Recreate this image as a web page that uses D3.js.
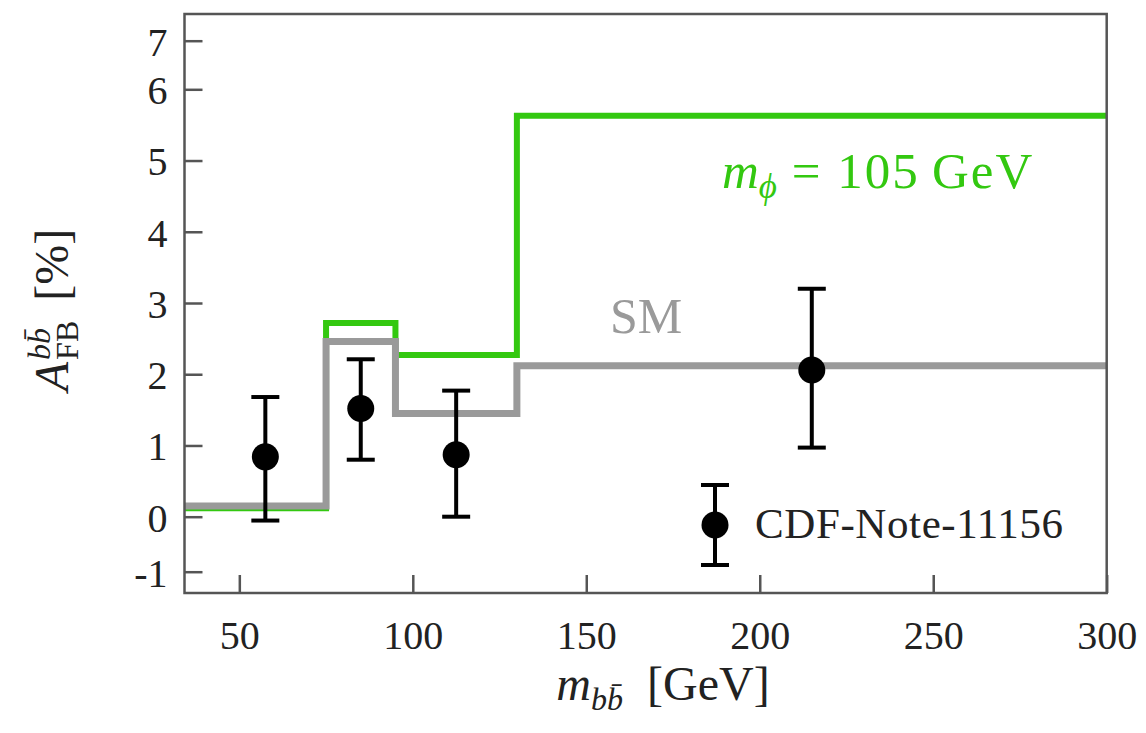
<!DOCTYPE html>
<html lang="en">

<head>
    <meta charset="utf-8">
    <script src='https://d3js.org/d3.v7.min.js'></script>
    <style>
        body { margin: 0; background: #fff; }
        text { font-family: "Liberation Serif", "Times New Roman", serif; }
    </style>
</head>

<body>

    <script>

        // bin edges of the mass histogram (GeV) and the step values per bin (%)
        const binEdges = [30, 75, 95, 130, 300];
        const smValues = [0.15, 2.46, 1.45, 2.12];
        const phiValues = [0.12, 2.72, 2.27, 5.63];

        // CDF points
        const cdfMass = [57.5, 85, 112.5, 215];
        const cdfAfb = [0.84, 1.52, 0.87, 2.06];
        const cdfLow = [-0.07, 0.80, 0.0, 0.97];
        const cdfHigh = [1.68, 2.21, 1.77, 3.20];

        const xTicks = [50, 100, 150, 200, 250, 300];
        const yTicks = [-1, 0, 1, 2, 3, 4, 5, 6, 7];

        const width = 1146;
        const height = 733;
        const plotLeft = 184.5, plotRight = 1106.7, plotTop = 14, plotBottom = 593;

        const green = "#33c810";
        const grey = "#9a9a9a";
        const frame = "#555";

        const svg = d3.select("body")
            .append("svg")
            .attr("width", width)
            .attr("height", height);

        svg.append("rect").attr("width", width).attr("height", height).attr("fill", "#fff");

        var x = d3.scaleLinear()
            .domain([34.2, 300])
            .range([plotLeft, plotRight]);

        // the original axis squeezes the outermost ticks a bit, so piecewise
        var y = d3.scaleLinear()
            .domain([-1, 0, 6, 7])
            .range([571.7, 516.7, 89.3, 40.7]);

        svg.append("clipPath").attr("id", "plotclip")
            .append("rect")
            .attr("x", plotLeft).attr("y", plotTop)
            .attr("width", plotRight - plotLeft).attr("height", plotBottom - plotTop);

        function stepPoints(vals) {
            return binEdges.map(function (e, i) {
                return [e, vals[Math.min(i, vals.length - 1)]];
            });
        }

        var line = d3.line()
            .x(function (d) { return x(d[0]); })
            .y(function (d) { return y(d[1]); })
            .curve(d3.curveStepAfter);

        var plot = svg.append("g").attr("clip-path", "url(#plotclip)");

        plot.append("path")
            .datum(stepPoints(phiValues))
            .attr("d", line)
            .attr("fill", "none")
            .attr("stroke", green)
            .attr("stroke-width", 6);

        plot.append("path")
            .datum(stepPoints(smValues))
            .attr("d", line)
            .attr("fill", "none")
            .attr("stroke", grey)
            .attr("stroke-width", 7);

        // axes (ticks point inwards)
        var xAxis = d3.axisBottom(x)
            .tickValues(xTicks)
            .tickSizeInner(-18)
            .tickSizeOuter(0)
            .tickPadding(28);

        var yAxis = d3.axisLeft(y)
            .tickValues(yTicks)
            .tickFormat(function (d) { return String(d); })
            .tickSizeInner(-18)
            .tickSizeOuter(0)
            .tickPadding(17);

        var gx = svg.append("g")
            .attr("transform", "translate(0," + plotBottom + ")")
            .call(xAxis);
        var gy = svg.append("g")
            .attr("transform", "translate(" + plotLeft + ",0)")
            .call(yAxis);

        [gx, gy].forEach(function (g) {
            g.select(".domain").remove();
            g.selectAll(".tick line").attr("stroke", frame).attr("stroke-width", 2.5);
            g.selectAll(".tick text")
                .attr("fill", "#222")
                .style("font-family", "Liberation Serif, serif")
                .style("font-size", "40px");
        });
        gy.selectAll(".tick text").attr("dy", "0.36em");

        svg.append("rect")
            .attr("x", plotLeft).attr("y", plotTop)
            .attr("width", plotRight - plotLeft).attr("height", plotBottom - plotTop)
            .attr("fill", "none")
            .attr("stroke", frame)
            .attr("stroke-width", 2.5);

        // data points with error bars
        var pts = svg.selectAll(".pt")
            .data(cdfMass)
            .enter()
            .append("g")
            .attr("class", "pt");

        pts.append("line")
            .attr("x1", function (d) { return x(d); })
            .attr("x2", function (d) { return x(d); })
            .attr("y1", function (d, i) { return y(cdfLow[i]); })
            .attr("y2", function (d, i) { return y(cdfHigh[i]); })
            .attr("stroke", "#000").attr("stroke-width", 4);
        pts.append("line")
            .attr("x1", function (d) { return x(d) - 14; })
            .attr("x2", function (d) { return x(d) + 14; })
            .attr("y1", function (d, i) { return y(cdfLow[i]); })
            .attr("y2", function (d, i) { return y(cdfLow[i]); })
            .attr("stroke", "#000").attr("stroke-width", 4);
        pts.append("line")
            .attr("x1", function (d) { return x(d) - 14; })
            .attr("x2", function (d) { return x(d) + 14; })
            .attr("y1", function (d, i) { return y(cdfHigh[i]); })
            .attr("y2", function (d, i) { return y(cdfHigh[i]); })
            .attr("stroke", "#000").attr("stroke-width", 4);
        pts.append("circle")
            .attr("cx", function (d) { return x(d); })
            .attr("cy", function (d, i) { return y(cdfAfb[i]); })
            .attr("r", 13.5)
            .attr("fill", "#000");

        // legend
        var lg = svg.append("g").attr("transform", "translate(715,525)");
        lg.append("line").attr("y1", -40).attr("y2", 40).attr("stroke", "#000").attr("stroke-width", 4);
        lg.append("line").attr("x1", -14).attr("x2", 14).attr("y1", -40).attr("y2", -40).attr("stroke", "#000").attr("stroke-width", 4);
        lg.append("line").attr("x1", -14).attr("x2", 14).attr("y1", 40).attr("y2", 40).attr("stroke", "#000").attr("stroke-width", 4);
        lg.append("circle").attr("r", 13.5).attr("fill", "#000");
        lg.append("text")
            .attr("x", 40).attr("y", 13)
            .style("font-size", "43px")
            .style("letter-spacing", "0.6px")
            .attr("fill", "#222")
            .text("CDF-Note-11156");

        // curve labels
        var gl = svg.append("text")
            .attr("x", 722).attr("y", 188)
            .attr("fill", green)
            .style("font-size", "51px");
        gl.append("tspan").style("font-style", "italic").text("m");
        gl.append("tspan").style("font-style", "italic").style("font-size", "35px").attr("dy", 10).text("\u03d5");
        gl.append("tspan").attr("dy", -10).style("letter-spacing", "2px").text(" = 105\u2009GeV");

        svg.append("text")
            .attr("x", 610).attr("y", 333)
            .attr("fill", grey)
            .style("font-size", "50px")
            .text("SM");

        // x title
        var xt = svg.append("text")
            .attr("x", 663).attr("y", 700)
            .attr("text-anchor", "middle")
            .attr("fill", "#222")
            .style("font-size", "48px");
        xt.append("tspan").style("font-style", "italic").text("m");
        xt.append("tspan").style("font-style", "italic").style("font-size", "32px").attr("dy", 10).text("bb\u0304");
        xt.append("tspan").attr("dy", -10).text("\u2002[GeV]");

        // y title, laid out piece by piece then centred
        var yt = svg.append("g").attr("transform", "translate(68,310) rotate(-90)");
        var inner = yt.append("g");
        var a = inner.append("text").attr("fill", "#222").style("font-size", "48px").style("font-style", "italic").text("A");
        var aw = a.node().getComputedTextLength() + 2;
        var sup = inner.append("text").attr("x", aw).attr("y", -18).attr("fill", "#222")
            .style("font-size", "32px").style("font-style", "italic").text("bb\u0304");
        var sub = inner.append("text").attr("x", aw).attr("y", 10).attr("fill", "#222")
            .style("font-size", "32px").text("FB");
        var sw = Math.max(sup.node().getComputedTextLength(), sub.node().getComputedTextLength());
        var pc = inner.append("text").attr("x", aw + sw + 20).attr("fill", "#222")
            .style("font-size", "48px").text("[%]");
        var total = aw + sw + 20 + pc.node().getComputedTextLength();
        inner.attr("transform", "translate(" + (-total / 2) + ",0)");

    </script>

</body>

</html>
